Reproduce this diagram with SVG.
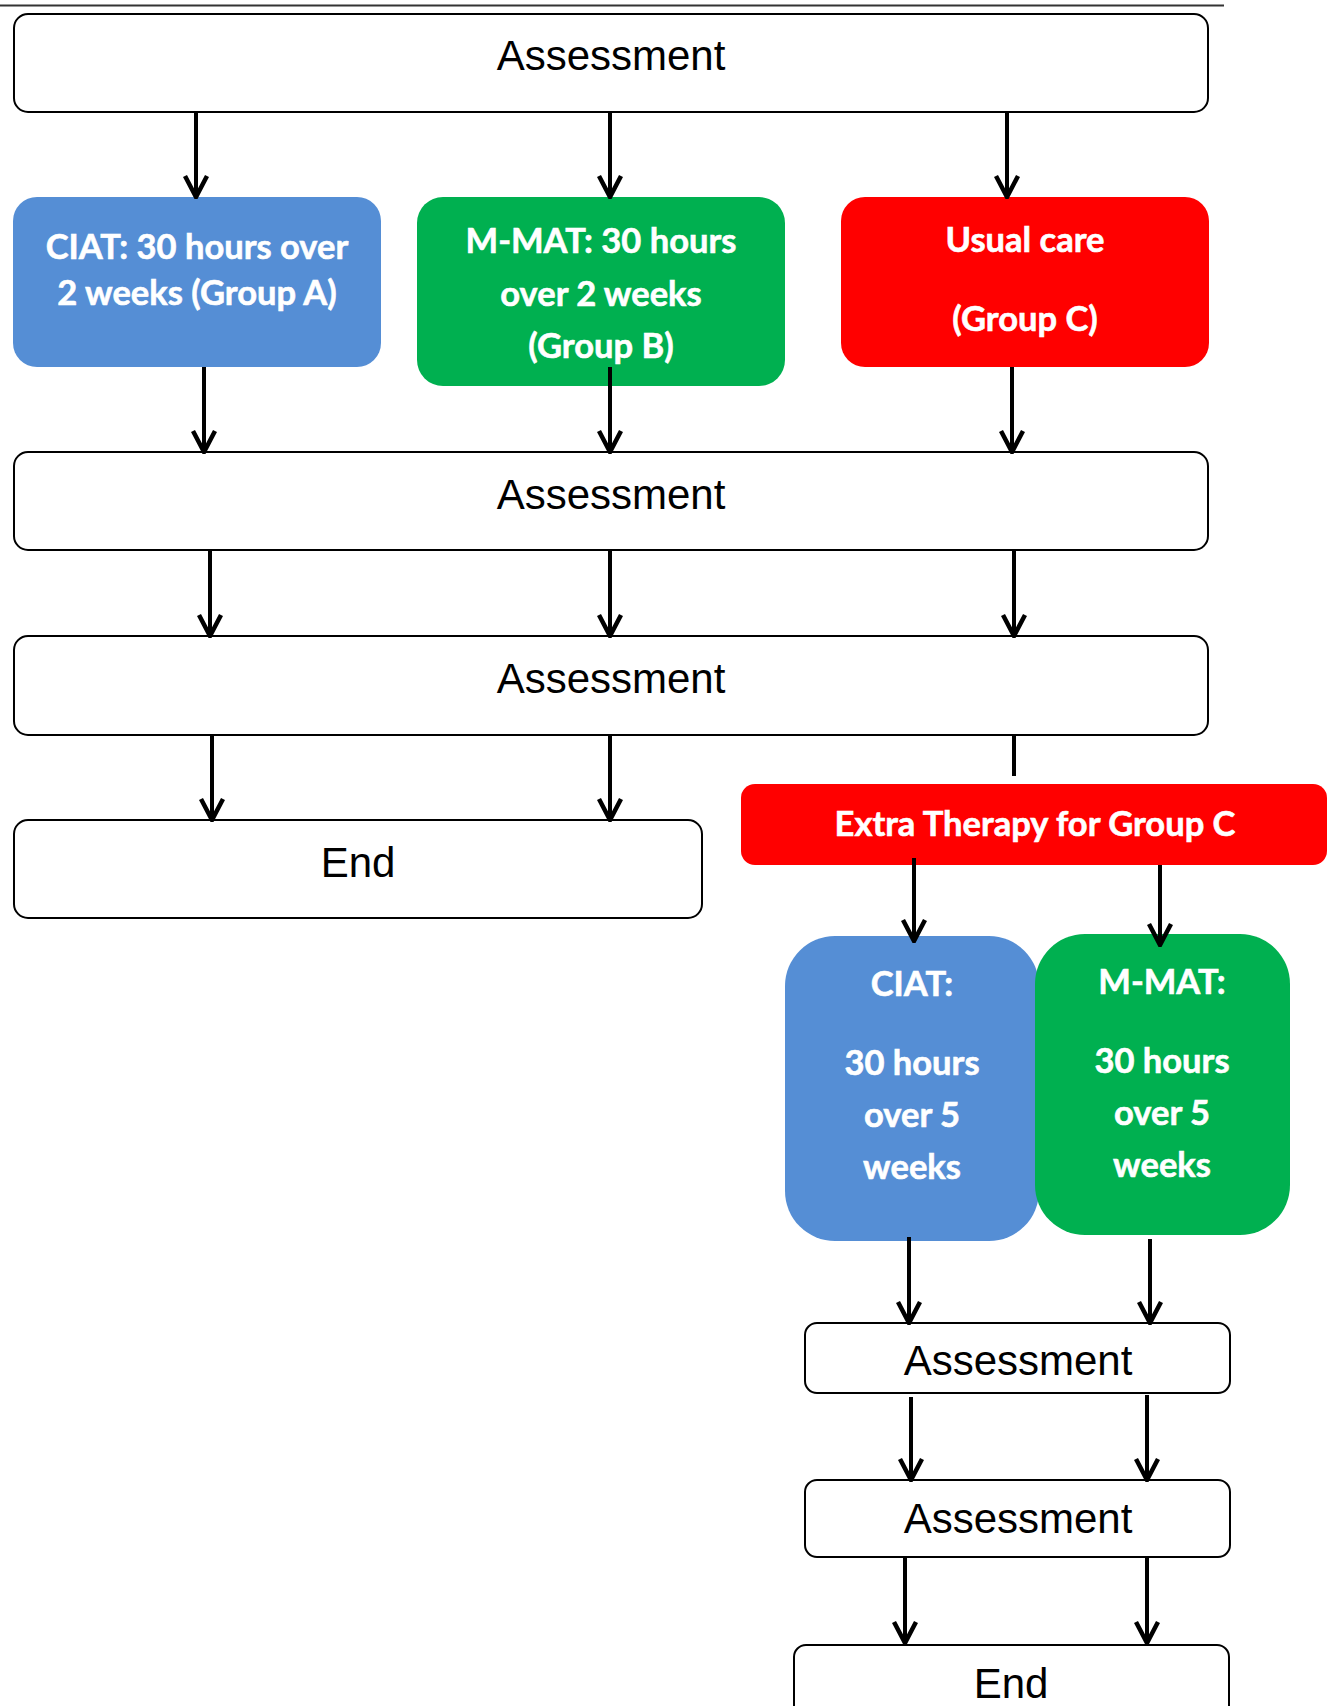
<svg xmlns="http://www.w3.org/2000/svg" width="1332" height="1706" viewBox="0 0 1332 1706">
<style>
.wb{fill:#fff;stroke:#000;stroke-width:2}
.blue{fill:#558ED5}
.green{fill:#00B050}
.red{fill:#FF0000}
.t{font-family:"Liberation Sans",Arial,sans-serif;font-size:42px;fill:#000;text-anchor:middle}
.c{font-family:Lato,"Open Sans",sans-serif;font-weight:bold;font-size:34.5px;fill:#fff;text-anchor:middle;stroke:#fff;stroke-width:0.6}
.ar{stroke:#000;stroke-width:4;fill:none;marker-end:url(#ah)}
.ln{stroke:#000;stroke-width:4;fill:none}
</style>
<defs>
<marker id="ah" viewBox="-26 -14 28 28" refX="0" refY="0" markerWidth="28" markerHeight="28" markerUnits="userSpaceOnUse" orient="auto">
<path d="M -21 -11 L 0 0 L -21 11" fill="none" stroke="#000" stroke-width="4.5" stroke-linejoin="miter"/>
</marker>
</defs>
<line x1="0" y1="5.5" x2="1224" y2="5.5" stroke="#333" stroke-width="2"/>

<g id="assess1"><rect class="wb" x="14" y="14" width="1194" height="98" rx="14"/><text class="t" x="611" y="70">Assessment</text></g>
<g id="ciatA"><rect class="blue" x="13" y="197" width="368" height="170" rx="24"/><text class="c" x="197" y="259">CIAT: 30 hours over</text><text class="c" x="197" y="305">2 weeks (Group A)</text></g>
<g id="mmatB"><rect class="green" x="417" y="197" width="368" height="189" rx="26"/><text class="c" x="601" y="253">M-MAT: 30 hours</text><text class="c" x="601" y="306">over 2 weeks</text><text class="c" x="601" y="358">(Group B)</text></g>
<g id="usualC"><rect class="red" x="841" y="197" width="368" height="170" rx="24"/><text class="c" x="1025" y="252">Usual care</text><text class="c" x="1025" y="331">(Group C)</text></g>
<g id="assess2"><rect class="wb" x="14" y="452" width="1194" height="98" rx="14"/><text class="t" x="611" y="509">Assessment</text></g>
<g id="assess3"><rect class="wb" x="14" y="636" width="1194" height="99" rx="14"/><text class="t" x="611" y="693">Assessment</text></g>
<g id="end1"><rect class="wb" x="14" y="820" width="688" height="98" rx="14"/><text class="t" x="358" y="877">End</text></g>
<g id="extraC"><rect class="red" x="741" y="784" width="586" height="81" rx="14"/><text class="c" x="1035" y="836">Extra Therapy for Group C</text></g>
<g id="ciat2"><rect class="blue" x="785" y="936" width="254" height="305" rx="50"/><text class="c" x="912" y="996">CIAT:</text><text class="c" x="912" y="1075">30 hours</text><text class="c" x="912" y="1127">over 5</text><text class="c" x="912" y="1179">weeks</text></g>
<g id="mmat2"><rect class="green" x="1035" y="934" width="255" height="301" rx="50"/><text class="c" x="1162" y="994">M-MAT:</text><text class="c" x="1162" y="1073">30 hours</text><text class="c" x="1162" y="1125">over 5</text><text class="c" x="1162" y="1177">weeks</text></g>
<g id="assess4"><rect class="wb" x="805" y="1323" width="425" height="70" rx="12"/><text class="t" x="1018" y="1375">Assessment</text></g>
<g id="assess5"><rect class="wb" x="805" y="1480" width="425" height="77" rx="12"/><text class="t" x="1018" y="1533">Assessment</text></g>
<g id="end2"><rect class="wb" x="794" y="1645" width="435" height="80" rx="12"/><text class="t" x="1011" y="1698">End</text></g>

<g id="connectors">
<path class="ar" d="M196 112 V197"/>
<path class="ar" d="M610 112 V197"/>
<path class="ar" d="M1007 112 V197"/>
<path class="ar" d="M204 367 V452"/>
<path class="ar" d="M610 367 V452"/>
<path class="ar" d="M1012 367 V452"/>
<path class="ar" d="M210 550 V636"/>
<path class="ar" d="M610 550 V636"/>
<path class="ar" d="M1014 550 V636"/>
<path class="ar" d="M212 735 V820"/>
<path class="ar" d="M610 735 V820"/>
<path class="ln" d="M1014 735 V776"/>
<path class="ar" d="M914 858 V941"/>
<path class="ar" d="M1160 865 V945"/>
<path class="ar" d="M909 1237 V1323"/>
<path class="ar" d="M1150 1239 V1323"/>
<path class="ar" d="M911 1397 V1480"/>
<path class="ar" d="M1147 1395 V1480"/>
<path class="ar" d="M905 1557 V1643"/>
<path class="ar" d="M1147 1557 V1643"/>
</g>
</svg>
